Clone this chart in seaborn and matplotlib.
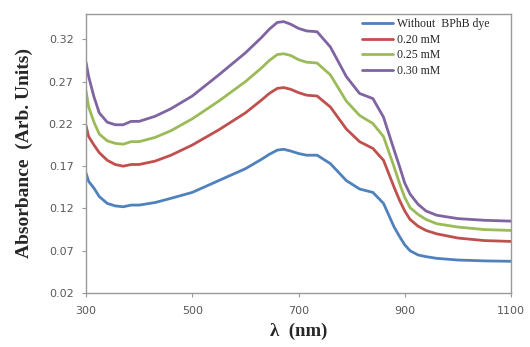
import numpy as np, pandas as pd
import matplotlib; matplotlib.use("Agg")
import matplotlib.pyplot as plt
import seaborn as sns

# wavelengths (nm) and absorbance
wavelength = [300, 305, 315, 325, 340, 355, 370, 385, 400, 430, 460, 500, 550, 600, 630, 645,
              660, 672, 685, 700, 715, 735, 760, 790, 815, 840, 860, 880, 890, 900, 910, 925,
              940, 960, 1000, 1050, 1100]
no_dye = [0.162, 0.152, 0.144, 0.134, 0.126, 0.123, 0.122, 0.124, 0.124, 0.127, 0.132, 0.139,
          0.153, 0.167, 0.178, 0.184, 0.189, 0.190, 0.188, 0.185, 0.183, 0.183, 0.173, 0.153,
          0.143, 0.139, 0.126, 0.098, 0.087, 0.077, 0.070, 0.065, 0.063, 0.061, 0.059, 0.058,
          0.0575]
mm_020 = [0.218, 0.205, 0.195, 0.186, 0.177, 0.172, 0.170, 0.172, 0.172, 0.176, 0.183, 0.195,
          0.213, 0.233, 0.248, 0.256, 0.262, 0.263, 0.261, 0.257, 0.254, 0.253, 0.240, 0.214,
          0.199, 0.191, 0.177, 0.145, 0.130, 0.117, 0.107, 0.099, 0.094, 0.090, 0.085, 0.082,
          0.081]
mm_025 = [0.259, 0.240, 0.222, 0.208, 0.200, 0.197, 0.196, 0.199, 0.199, 0.204, 0.212, 0.226,
          0.247, 0.270, 0.286, 0.295, 0.302, 0.303, 0.301, 0.296, 0.293, 0.292, 0.278, 0.247,
          0.230, 0.2205, 0.205, 0.169, 0.150, 0.133, 0.121, 0.113, 0.107, 0.102, 0.098, 0.095,
          0.094]
mm_030 = [0.293, 0.276, 0.252, 0.233, 0.222, 0.219, 0.219, 0.223, 0.223, 0.229, 0.238, 0.253,
          0.278, 0.304, 0.322, 0.332, 0.340, 0.341, 0.338, 0.333, 0.330, 0.329, 0.311, 0.276,
          0.256, 0.250, 0.228, 0.189, 0.170, 0.150, 0.137, 0.125, 0.117, 0.112, 0.108, 0.106,
          0.105]
labels = ["Without  BPhB dye", "0.20 mM", "0.25 mM", "0.30 mM"]
colors = ["#4F81BD", "#C0504D", "#9BBB59", "#8064A2"]
yticks = [0.02, 0.07, 0.12, 0.17, 0.22, 0.27, 0.32]
xticks = [300, 500, 700, 900, 1100]

df = pd.concat([pd.DataFrame({'wl': wavelength, 'abs': v, 'sample': lab})
                for v, lab in zip([no_dye, mm_020, mm_025, mm_030], labels)])

sns.set_style("white")
fig = plt.figure(figsize=(5.30, 3.47), dpi=100)
ax = fig.add_axes([86 / 530, 1 - 293 / 347, 425 / 530, 279 / 347])
sns.lineplot(data=df, x='wl', y='abs', hue='sample', palette=colors, linewidth=2.0,
             ax=ax, sort=False)

ax.set_xlim(300, 1100); ax.set_ylim(0.02, 0.35)
ax.set_xticks(xticks); ax.set_yticks(yticks)
ax.set_xticklabels([str(t) for t in xticks]); ax.set_yticklabels([f"{t:.2f}" for t in yticks])
ax.tick_params(labelsize=8, labelcolor='#595959', color='#999999', length=3, width=0.8,
               direction='out', left=True, bottom=True, pad=6)
for s in ax.spines.values():
    s.set_color('#999999'); s.set_linewidth(1.0)

serif = ['Liberation Serif', 'DejaVu Serif']
ax.set_xlabel('λ  (nm)', family=serif, fontweight='bold', fontsize=13.5, labelpad=5)
ax.set_ylabel('Absorbance  (Arb. Units)', family=serif, fontweight='bold', fontsize=14,
              labelpad=11)

leg = ax.legend(loc='upper left', bbox_to_anchor=(0.649, 0.985), frameon=False,
                prop={'family': serif, 'size': 8.5}, handlelength=2.6, handletextpad=0.42,
                labelspacing=0.3, borderaxespad=0, borderpad=0)
for h in leg.get_lines():
    h.set_linewidth(2.0)

fig.savefig("out.png", dpi=100)
